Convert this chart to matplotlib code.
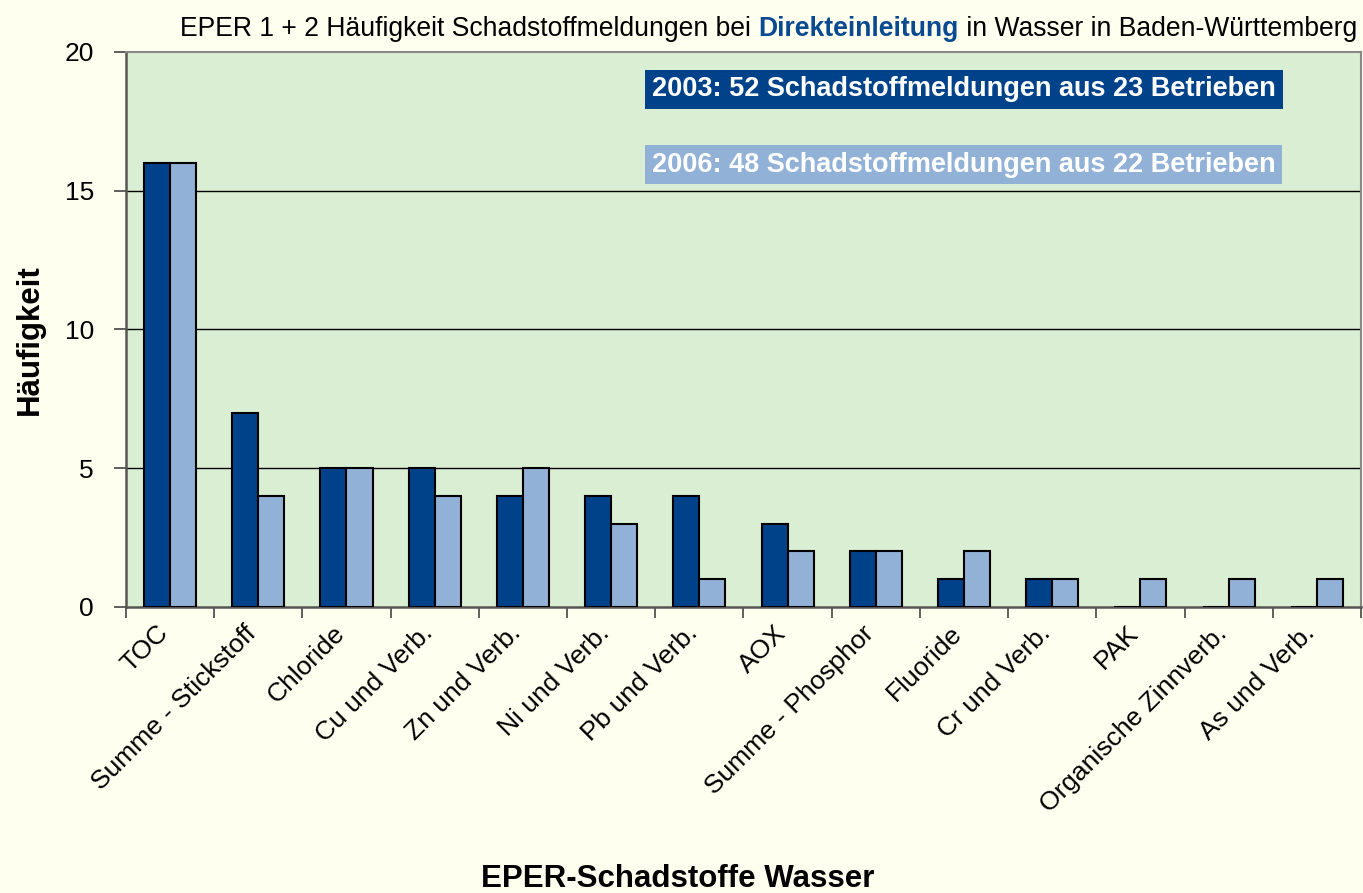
import matplotlib
matplotlib.use("Agg")
import matplotlib.pyplot as plt
import matplotlib.transforms as mtransforms
import numpy as np

categories = ["TOC", "Summe - Stickstoff", "Chloride", "Cu und Verb.", "Zn und Verb.",
              "Ni und Verb.", "Pb und Verb.", "AOX", "Summe - Phosphor", "Fluoride",
              "Cr und Verb.", "PAK", "Organische Zinnverb.", "As und Verb."]
values_2003 = [16, 7, 5, 5, 4, 4, 4, 3, 2, 1, 1, 0, 0, 0]
values_2006 = [16, 4, 5, 4, 5, 3, 1, 2, 2, 2, 1, 1, 1, 1]
yticks = [0, 5, 10, 15, 20]
legend_2003 = "2003: 52 Schadstoffmeldungen aus 23 Betrieben"
legend_2006 = "2006: 48 Schadstoffmeldungen aus 22 Betrieben"

plt.rcParams['font.family'] = ['Liberation Sans', 'DejaVu Sans']

dark = "#00428A"
light = "#91B1D6"
fig_bg = "#FFFFF0"
ax_bg = "#DAEED3"

fig = plt.figure(figsize=(13.63, 8.93), dpi=100, facecolor=fig_bg)
ax = fig.add_axes([0.0924, 0.3203, 0.9061, 0.6215], facecolor=ax_bg)

x = np.arange(len(categories))
w = 0.295
ax.bar(x - w/2, values_2003, width=w, color=dark, edgecolor="black", linewidth=1.5, zorder=3)
ax.bar(x + w/2, values_2006, width=w, color=light, edgecolor="black", linewidth=1.5, zorder=3)

ax.set_xlim(-0.5, len(categories) - 0.5)
ax.set_ylim(0, 20)
ax.set_yticks(yticks)
ax.set_yticklabels([str(v) for v in yticks], fontsize=19)
for v in yticks[1:-1]:
    ax.axhline(v, color="black", linewidth=1.0, zorder=1)

# category labels (drawn as text so they can be offset like the original)
ax.set_xticks(x)
ax.set_xticklabels([])
ax.set_xticks(np.arange(len(categories) + 1) - 0.5, minor=True)
ax.tick_params(axis="x", which="major", length=0)
ax.tick_params(axis="x", which="minor", length=8, width=1.2, color="#444444")
ax.tick_params(axis="y", length=9, width=1.2, color="#444444", pad=14)

offset = mtransforms.ScaledTranslation(-14 / 100, -14 / 100, fig.dpi_scale_trans)
for xi, lab in zip(x, categories):
    ax.text(xi, 0, lab, transform=ax.get_xaxis_transform() + offset, rotation=45,
            rotation_mode="anchor", ha="right", va="top", fontsize=19)

for s in ["left", "bottom"]:
    ax.spines[s].set_color("#555555")
    ax.spines[s].set_linewidth(1.8)
for s in ["top", "right"]:
    ax.spines[s].set_color("#888888")
    ax.spines[s].set_linewidth(1.5)

fig.text(0.022, 1 - 340 / 893, "Häufigkeit", fontsize=22.5, fontweight="bold", rotation=90, ha="center", va="center")
fig.text(0.4975, 0.016, "EPER-Schadstoffe Wasser", fontsize=22.5, fontweight="bold", ha="center", va="center")

# title with colored middle word
ty = 0.967
t1 = fig.text(180 / 1363, ty, "EPER 1 + 2 Häufigkeit Schadstoffmeldungen bei ", fontsize=19.1, ha="left", va="center")
fig.canvas.draw()
r = fig.canvas.get_renderer()
bb = t1.get_window_extent(r)
t2 = fig.text(bb.x1 / fig.bbox.width, ty, "Direkteinleitung", fontsize=19.1, fontweight="bold", color="#0A4A90", ha="left", va="center")
bb2 = t2.get_window_extent(r)
fig.text(bb2.x1 / fig.bbox.width, ty, " in Wasser in Baden-Württemberg", fontsize=19.1, ha="left", va="center")

ax.text(0.426, 0.9324, legend_2003, transform=ax.transAxes, fontsize=19.5, fontweight="bold", color="white",
        ha="left", va="center", bbox=dict(boxstyle="square,pad=0.25", facecolor=dark, edgecolor="none"))
ax.text(0.426, 0.797, legend_2006, transform=ax.transAxes, fontsize=19.5, fontweight="bold", color="white",
        ha="left", va="center", bbox=dict(boxstyle="square,pad=0.25", facecolor=light, edgecolor="none"))

fig.savefig("out.png", dpi=100, facecolor=fig_bg)
